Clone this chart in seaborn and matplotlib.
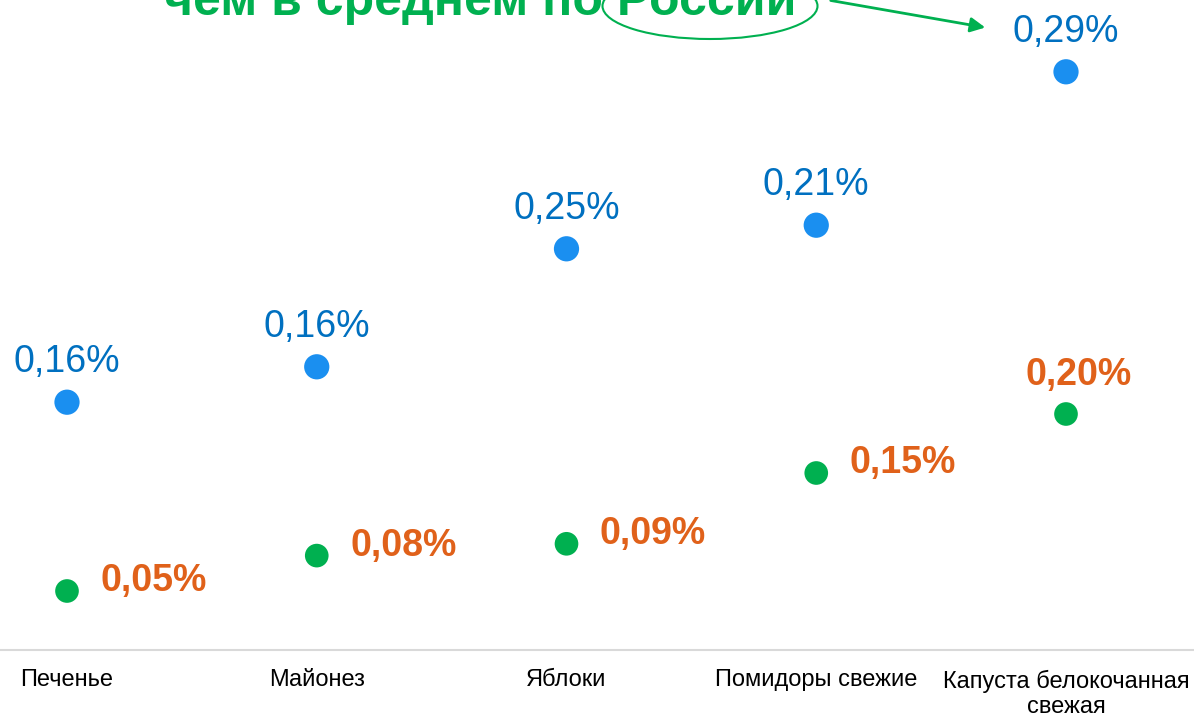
import matplotlib.pyplot as plt
import pandas as pd
import seaborn as sns
from matplotlib.patches import Ellipse, FancyArrowPatch

# data
categories = ["Печенье", "Майонез", "Яблоки", "Помидоры свежие", "Капуста белокочанная\nсвежая"]
region_values = [0.05, 0.08, 0.09, 0.15, 0.20]   # green points, orange labels
russia_values = [0.16, 0.16, 0.25, 0.21, 0.29]   # blue points (stacked on top)

GREEN = "#00B050"
BLUE_DOT = "#1A8FF0"
BLUE_TXT = "#0070C0"
ORANGE = "#E0611A"

W, H = 1194, 719

sns.set_theme(style="white")
plt.rcParams["font.family"] = ["Liberation Sans", "DejaVu Sans"]

df = pd.DataFrame({
    "x": list(range(len(categories))) * 2,
    "value": region_values + [r + b for r, b in zip(region_values, russia_values)],
    "label": region_values + russia_values,
    "series": ["region"] * len(categories) + ["russia"] * len(categories),
})

fig = plt.figure(figsize=(W / 100, H / 100), dpi=100)
ax = fig.add_axes([0, 69 / H, 1, 650 / H])

sns.scatterplot(data=df[df.series == "russia"], x="x", y="value", color=BLUE_DOT,
                s=330, edgecolor="none", ax=ax, zorder=3, legend=False)
sns.scatterplot(data=df[df.series == "region"], x="x", y="value", color=GREEN,
                s=290, edgecolor="none", ax=ax, zorder=3, legend=False)

ax.set_xlim(-67 / 249.75, 4 + 128 / 249.75)
ax.set_ylim(0, 650 / 1180)


def fmt(v):
    return f"{v:.2f}%".replace(".", ",")


for _, row in df.iterrows():
    if row.series == "russia":
        ax.annotate(fmt(row.label), (row.x, row.value), xytext=(0, 29), textcoords="offset points",
                    ha="center", va="center", fontsize=27, color=BLUE_TXT)
    elif row.x == len(categories) - 1:
        ax.annotate(fmt(row.label), (row.x, row.value), xytext=(9, 28), textcoords="offset points",
                    ha="center", va="center", fontsize=27, color=ORANGE, fontweight="bold")
    else:
        ax.annotate(fmt(row.label), (row.x, row.value), xytext=(24, 7), textcoords="offset points",
                    ha="left", va="center", fontsize=27, color=ORANGE, fontweight="bold")

ax.set_xticks(range(len(categories)))
ax.set_xticklabels(categories, fontsize=17, color="#000000", linespacing=1.2)
ax.tick_params(axis="x", length=0, pad=14)
ax.set_yticks([])
ax.set_xlabel("")
ax.set_ylabel("")
for side in ["top", "left", "right"]:
    ax.spines[side].set_visible(False)
ax.spines["bottom"].set_color("#D9D9D9")
ax.spines["bottom"].set_linewidth(1.5)

# headline, cut off by the top edge like in the source slide
fig.text(164 / W, 1 - 15 / H, "чем в среднем по России", fontsize=36, fontweight="bold",
         color=GREEN, ha="left", va="baseline")
fig.add_artist(Ellipse((710 / W, 1 - 6 / H), 215 / W, 66 / H, transform=fig.transFigure,
                       fill=False, edgecolor=GREEN, lw=1.5))
fig.add_artist(FancyArrowPatch((828 / W, 1.0), (988 / W, 1 - 28 / H), transform=fig.transFigure,
                               arrowstyle="-|>", mutation_scale=22, color=GREEN, lw=2))

fig.savefig("out.png", dpi=100)
